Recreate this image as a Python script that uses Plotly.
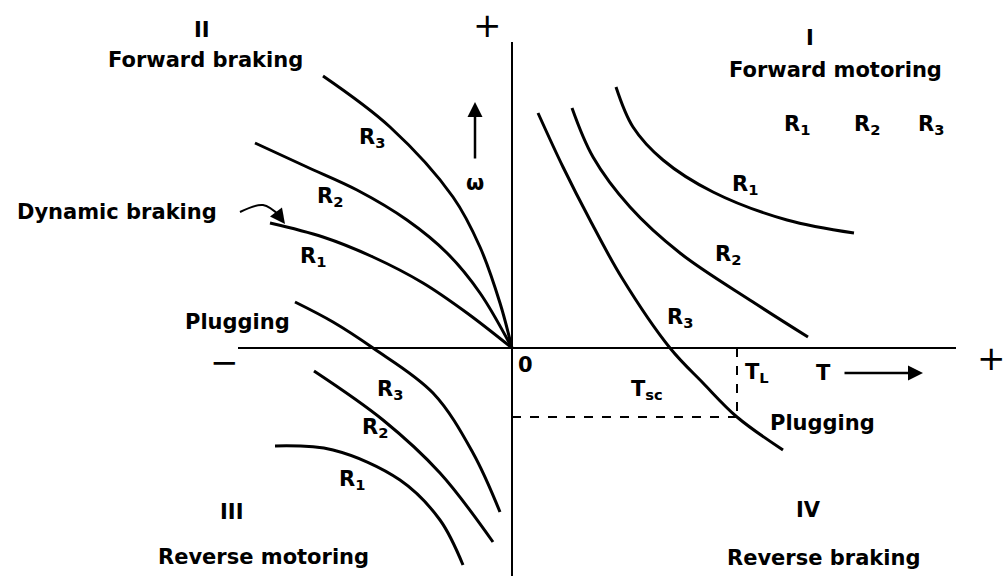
import plotly.graph_objects as go

# Curves in diagram units (T horizontal, omega vertical; origin at axis crossing)
q1_r1_T = [104, 121, 151, 201, 275, 342]
q1_r1_W = [261, 221, 188, 156, 128, 115]
q1_r2_T = [60, 81, 118, 168, 241, 296]
q1_r2_W = [240, 191, 141, 95, 46, 11]
q1_r3_T = [26, 51, 78, 110, 158, 191, 225, 271]
q1_r3_W = [235, 181, 128, 70, 0, -35, -69, -102]

q2_r3_T = [-189, -122, -59, -32, -12, 0]
q2_r3_W = [272, 221, 151, 101, 45, 0]
q2_r2_T = [-257, -205, -155, -105, -65, -32, 0]
q2_r2_W = [205, 181, 158, 128, 95, 55, 0]
q2_r1_T = [-242, -189, -139, -89, -45, 0]
q2_r1_W = [125, 111, 91, 65, 35, 0]

q3_r3_T = [-217, -179, -139, -79, -39, -12]
q3_r3_W = [46, 26, 0, -45, -105, -164]
q3_r2_T = [-198, -129, -72, -19]
q3_r2_W = [-23, -72, -125, -194]
q3_r1_T = [-237, -179, -112, -72, -49]
q3_r1_W = [-98, -102, -132, -172, -217]

axis_T = [-274, 444]
axis_W = [306, -228]
T_L = 225
W_L = -69

dyn_T = [-272, -249, -232]
dyn_W = [136, 143, 132]

labels = [
    ("II", -310, 318), ("Forward braking", -307, 288),
    ("I", 298, 310), ("Forward motoring", 323, 278),
    ("R<sub>1</sub>", 285, 223), ("R<sub>2</sub>", 355, 223), ("R<sub>3</sub>", 419, 223),
    ("R<sub>1</sub>", 233, 163), ("R<sub>2</sub>", 216, 93), ("R<sub>3</sub>", 168, 30),
    ("R<sub>3</sub>", -140, 210), ("R<sub>2</sub>", -182, 151), ("R<sub>1</sub>", -199, 91),
    ("Dynamic braking", -395, 136), ("ω", -37, 165),
    ("Plugging", -275, 26),
    ("R<sub>3</sub>", -122, -42), ("R<sub>2</sub>", -137, -80), ("R<sub>1</sub>", -160, -132),
    ("III", -281, -164), ("Reverse motoring", -249, -209),
    ("0", 13, -17), ("T<sub>sc</sub>", 135, -42), ("T<sub>L</sub>", 245, -25), ("T", 311, -25),
    ("Plugging", 310, -75), ("IV", 296, -162), ("Reverse braking", 311, -210),
]
signs = [("+", -25, 323), ("+", 479, -10), ("−", -288, -14)]

FONT = "DejaVu Sans"
fig = go.Figure()

def curve(T, W, width=3, dash=None, shape="spline"):
    fig.add_trace(go.Scatter(x=T, y=W, mode="lines", line_shape=shape,
                             line=dict(color="black", width=width, dash=dash),
                             hoverinfo="skip", showlegend=False))

for T, W in [(q1_r1_T, q1_r1_W), (q1_r2_T, q1_r2_W), (q1_r3_T, q1_r3_W),
             (q2_r3_T, q2_r3_W), (q2_r2_T, q2_r2_W), (q2_r1_T, q2_r1_W),
             (q3_r3_T, q3_r3_W), (q3_r2_T, q3_r2_W), (q3_r1_T, q3_r1_W)]:
    curve(T, W)

# axes
curve(axis_T, [0, 0], width=2, shape="linear")
curve([0, 0], axis_W, width=2, shape="linear")
# dashed load lines
curve([0, T_L], [W_L, W_L], width=2, dash="dash", shape="linear")
curve([T_L, T_L], [0, W_L], width=2, dash="dash", shape="linear")
# dynamic braking pointer
curve(dyn_T, dyn_W, width=2)

for text, x, y in labels:
    fig.add_annotation(x=x, y=y, text=text, showarrow=False,
                       font=dict(family=FONT, size=21, color="black", weight="bold"))
for text, x, y in signs:
    fig.add_annotation(x=x, y=y, text=text, showarrow=False,
                       font=dict(family=FONT, size=34, color="black"))

# arrows
arrows = [(-37, 246, -37, 188), (411, -25, 331, -25), (-227, 124, -233, 132)]
for x, y, ax, ay in arrows:
    fig.add_annotation(x=x, y=y, ax=ax, ay=ay, xref="x", yref="y", axref="x", ayref="y",
                       text="", showarrow=True, arrowhead=2, arrowsize=1.2,
                       arrowwidth=2.5, arrowcolor="black")

fig.update_xaxes(range=[-512, 493], visible=False, fixedrange=True)
fig.update_yaxes(range=[-228, 348], visible=False, fixedrange=True)
fig.update_layout(width=1005, height=576, margin=dict(l=0, r=0, t=0, b=0),
                  plot_bgcolor="white", paper_bgcolor="white")
fig.write_html("out.html", config={"displayModeBar": False},
               post_script="document.body.style.margin='0';document.body.style.overflow='hidden';")
